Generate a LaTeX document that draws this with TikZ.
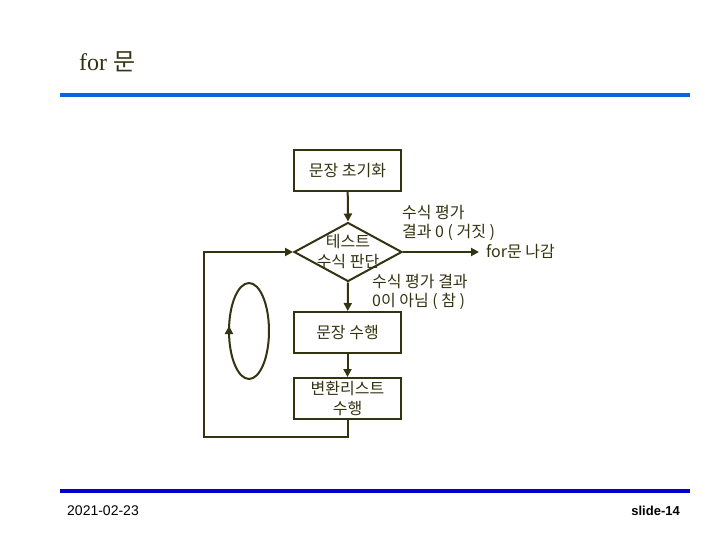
\documentclass[tikz,border=0pt]{standalone}
\usepackage{fontspec}
\setmainfont{Liberation Serif}
\newfontfamily\kor{Noto Sans CJK KR}
\newfontfamily\foot{Liberation Sans}
\usetikzlibrary{shapes.geometric,arrows.meta}
\definecolor{lineolive}{HTML}{333311}
\definecolor{topblue}{HTML}{0A66DD}
\definecolor{botblue}{HTML}{0000CC}
\tikzset{
  stepbox/.style={draw=lineolive, line width=2pt, minimum width=107pt, minimum height=41pt,
    inner sep=0pt, align=center, text=lineolive, font=\kor\fontsize{16}{20}\selectfont},
  flow/.style={draw=lineolive, line width=2pt, -{Triangle[length=8pt,width=8pt]}},
  note/.style={align=left, inner sep=0pt, text=lineolive, font=\kor\fontsize{16}{19}\selectfont}
}
\begin{document}
\begin{tikzpicture}[x=1pt,y=-1pt]
\useasboundingbox (0,0) rectangle (720,540);
% title and rules
\node[anchor=base west, inner sep=0pt, text=lineolive, font=\fontsize{24}{26}\selectfont] (title) at (79,71) {for {\kor 문}};
\draw[topblue, line width=4pt] (60,95) -- (690,95);
\draw[botblue, line width=4pt] (60,491) -- (690,491);
\node[anchor=west, inner sep=0pt, font=\foot\fontsize{14}{15}\selectfont] (date) at (67,511) {2021-02-23};
\node[anchor=east, inner sep=0pt, font=\foot\bfseries\fontsize{13}{15}\selectfont] (slide) at (680,511) {slide-14};
% flow chart
\node[stepbox] (init) at (347.5,170.5) {문장 초기화};
\node[diamond, draw=lineolive, line width=2pt, aspect=1.83, minimum width=108pt, minimum height=59pt, inner sep=0pt] (test) at (348,252) {};
\node[note, align=center, font=\kor\fontsize{16}{20}\selectfont] (testtext) at (test.center) {테스트\\수식 판단};
\node[stepbox] (body) at (347.5,332.5) {문장 수행};
\node[stepbox] (update) at (347.5,398.5) {변환리스트\\수행};
\node[note] (falsenote) [anchor=west] at (402,223) {수식 평가\\결과 0 ( 거짓 )};
\node[note] (exitnote) [anchor=west] at (486,252) {for문 나감};
\node[note] (truenote) [anchor=west] at (372,292) {수식 평가 결과\\0이 아님 ( 참 )};
\coordinate (loopcorner) at (204,437);
\draw[flow] (init) -- (test.north);
\draw[flow, shorten >=7pt] (test.east) -- (exitnote.west);
\draw[flow] (test.south) -- (body);
\draw[flow] (body) -- (update);
\draw[flow] (update.south) |- (loopcorner) |- (test.west);
% loop ellipse
\draw[lineolive, line width=2pt] (249,331) ellipse [x radius=20, y radius=48];
\draw[lineolive, line width=2pt, -{Triangle[length=8pt,width=8pt]}] (229,338) -- (229,326);
\end{tikzpicture}
\end{document}
